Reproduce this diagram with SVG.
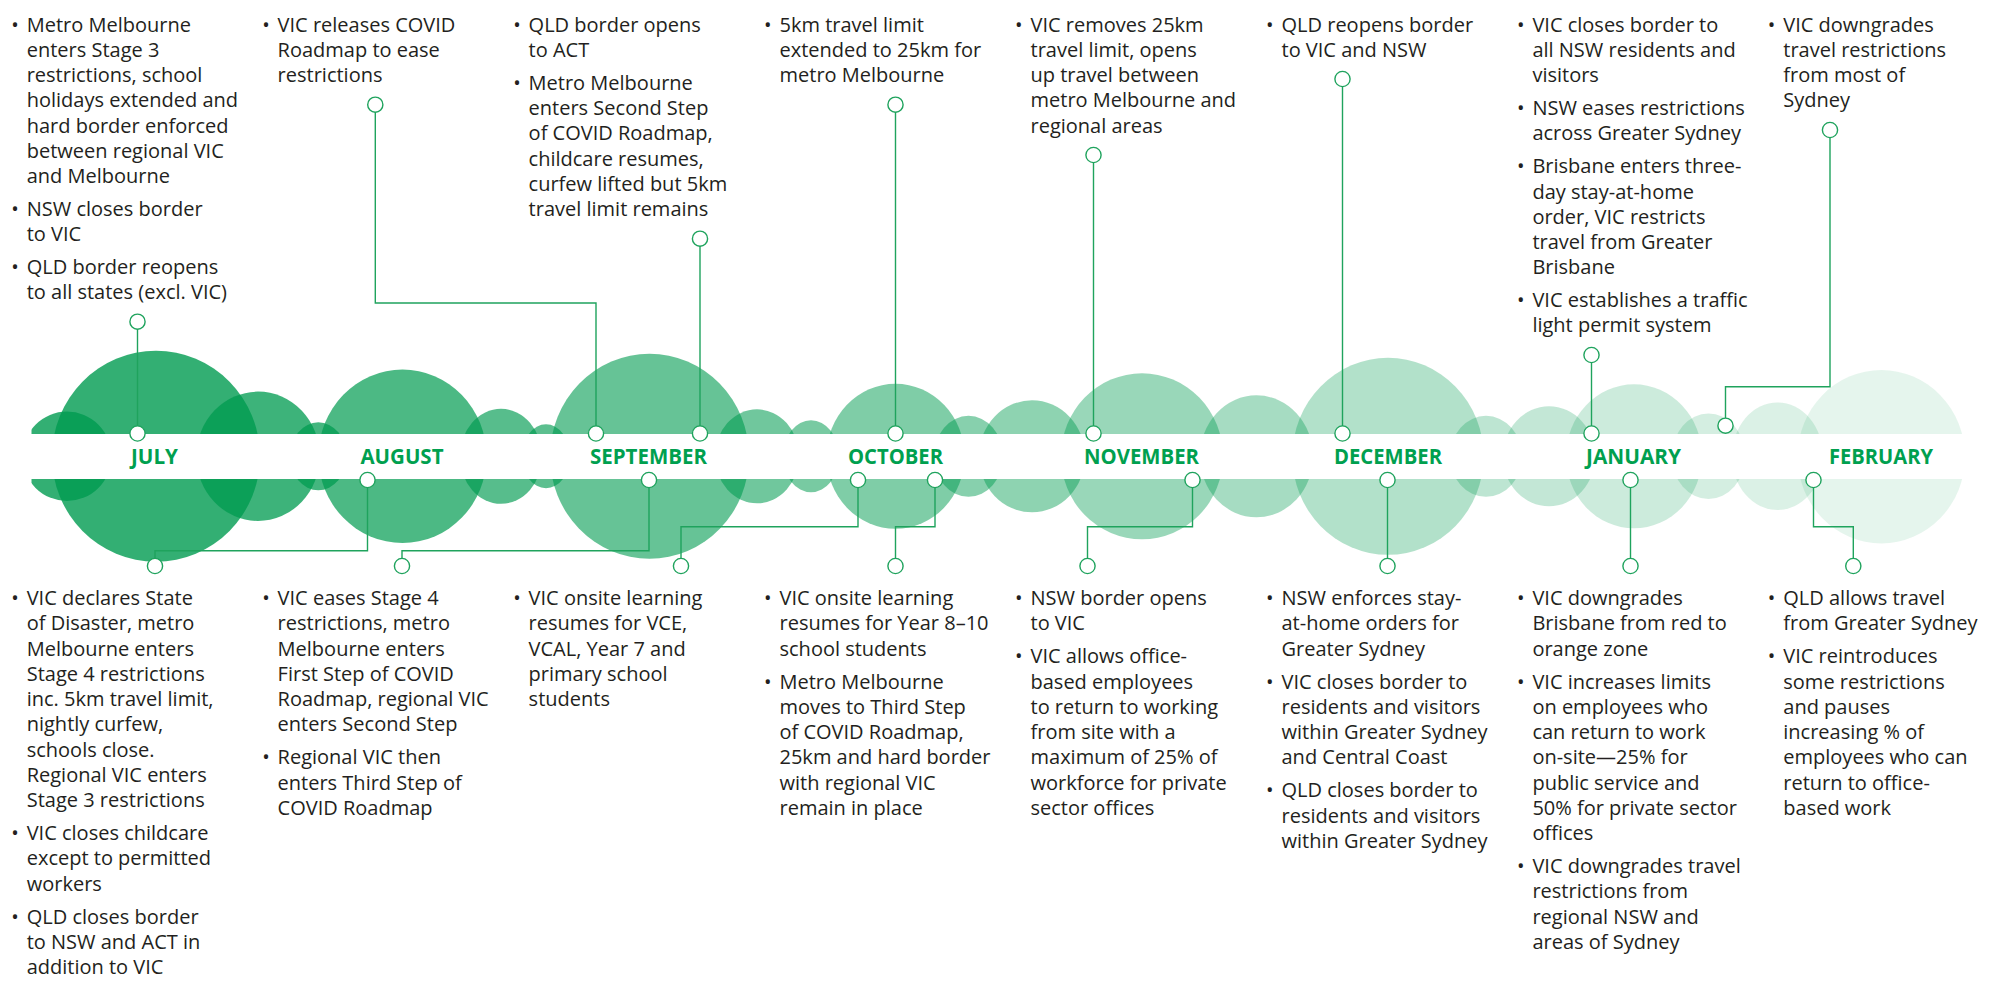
<svg xmlns="http://www.w3.org/2000/svg" width="1989" height="986" viewBox="0 0 1989 986">
<defs>
<style>
.t{font-family:"Open Sans","Liberation Sans",sans-serif;font-size:20px;fill:#231f20}
.b{font-family:"Open Sans","Liberation Sans",sans-serif;font-size:20px;fill:#231f20;text-anchor:middle}
.m{font-family:"Open Sans","Liberation Sans",sans-serif;font-size:21px;font-weight:700;fill:#00a04f;text-anchor:middle}
.bub{fill:#009b50}
.ln{fill:none;stroke:#1fa35d;stroke-width:1.4}
.mk{fill:#fff;stroke:#1fa35d;stroke-width:1.4}
</style>
<clipPath id="clipL"><rect x="31.5" y="0" width="1958" height="986"/></clipPath>
</defs>
<rect width="1989" height="986" fill="#fff"/>
<g id="bubbles" clip-path="url(#clipL)">
<ellipse class="bub" cx="67" cy="456.3" rx="44.5" ry="44.7" fill-opacity="0.8"/>
<ellipse class="bub" cx="156" cy="456.3" rx="104" ry="105.5" fill-opacity="0.8"/>
<ellipse class="bub" cx="258" cy="456.3" rx="61.7" ry="64.7" fill-opacity="0.76"/>
<ellipse class="bub" cx="318.3" cy="456.3" rx="28.3" ry="34" fill-opacity="0.735"/>
<ellipse class="bub" cx="402.5" cy="456.3" rx="84" ry="86.7" fill-opacity="0.7"/>
<ellipse class="bub" cx="501" cy="456.3" rx="41" ry="47.5" fill-opacity="0.66"/>
<ellipse class="bub" cx="546" cy="456.3" rx="24" ry="32" fill-opacity="0.64"/>
<ellipse class="bub" cx="649.5" cy="456.3" rx="99.5" ry="102.5" fill-opacity="0.6"/>
<ellipse class="bub" cx="757" cy="456.3" rx="42" ry="47" fill-opacity="0.56"/>
<ellipse class="bub" cx="811" cy="456.3" rx="28" ry="36" fill-opacity="0.53"/>
<ellipse class="bub" cx="895.5" cy="456.3" rx="69" ry="72.5" fill-opacity="0.5"/>
<ellipse class="bub" cx="968.5" cy="456.3" rx="34.5" ry="40.5" fill-opacity="0.47"/>
<ellipse class="bub" cx="1032" cy="456.3" rx="53" ry="56" fill-opacity="0.445"/>
<ellipse class="bub" cx="1142" cy="456.3" rx="81" ry="83" fill-opacity="0.4"/>
<ellipse class="bub" cx="1256.5" cy="456.3" rx="56.5" ry="61" fill-opacity="0.35"/>
<ellipse class="bub" cx="1388" cy="456.3" rx="95.6" ry="98.5" fill-opacity="0.3"/>
<ellipse class="bub" cx="1486" cy="456.3" rx="36" ry="40.5" fill-opacity="0.26"/>
<ellipse class="bub" cx="1549" cy="456.3" rx="46" ry="50" fill-opacity="0.235"/>
<ellipse class="bub" cx="1634" cy="456.3" rx="68" ry="72" fill-opacity="0.2"/>
<ellipse class="bub" cx="1708.5" cy="456.3" rx="36.6" ry="42.7" fill-opacity="0.17"/>
<ellipse class="bub" cx="1777.5" cy="456.3" rx="45.5" ry="53.8" fill-opacity="0.14"/>
<ellipse class="bub" cx="1881.3" cy="456.7" rx="83.7" ry="86.7" fill-opacity="0.1"/>
</g>
<rect id="band" x="0" y="434" width="1989" height="45" fill="#fff"/>
<g id="months">
<text class="m" x="154.5" y="464.3" textLength="47" lengthAdjust="spacingAndGlyphs">JULY</text>
<text class="m" x="402" y="464.3" textLength="83" lengthAdjust="spacingAndGlyphs">AUGUST</text>
<text class="m" x="648.5" y="464.3" textLength="117" lengthAdjust="spacingAndGlyphs">SEPTEMBER</text>
<text class="m" x="895.5" y="464.3" textLength="95" lengthAdjust="spacingAndGlyphs">OCTOBER</text>
<text class="m" x="1141.5" y="464.3" textLength="115" lengthAdjust="spacingAndGlyphs">NOVEMBER</text>
<text class="m" x="1388" y="464.3" textLength="108" lengthAdjust="spacingAndGlyphs">DECEMBER</text>
<text class="m" x="1633.5" y="464.3" textLength="95" lengthAdjust="spacingAndGlyphs">JANUARY</text>
<text class="m" x="1881" y="464.3" textLength="104" lengthAdjust="spacingAndGlyphs">FEBRUARY</text>
</g>
<g id="connectors">
<path class="ln" d="M137.5,321.7V433.5"/>
<path class="ln" d="M375.3,104.7V303H596V433.5"/>
<path class="ln" d="M700,238.7V433.5"/>
<path class="ln" d="M895.5,104.7V433.5"/>
<path class="ln" d="M1093.5,155V433.5"/>
<path class="ln" d="M1342.5,79V433.5"/>
<path class="ln" d="M1591.5,355V433.5"/>
<path class="ln" d="M1830,130V386.7H1725.5V425.7"/>
<path class="ln" d="M155,566V550.7H367.5V480"/>
<path class="ln" d="M402,566V550.7H649V480"/>
<path class="ln" d="M681,566V526.7H858V480"/>
<path class="ln" d="M895.5,566V526.7H935V480"/>
<path class="ln" d="M1087.5,566V526.7H1192.5V480"/>
<path class="ln" d="M1387.5,566V480"/>
<path class="ln" d="M1630.5,566V480"/>
<path class="ln" d="M1853.3,566V526.7H1813.5V480"/>
<circle class="mk" cx="137.5" cy="321.7" r="7.6"/>
<circle class="mk" cx="137.5" cy="433.5" r="7.6"/>
<circle class="mk" cx="375.3" cy="104.7" r="7.6"/>
<circle class="mk" cx="596" cy="433.5" r="7.6"/>
<circle class="mk" cx="700" cy="238.7" r="7.6"/>
<circle class="mk" cx="700" cy="433.5" r="7.6"/>
<circle class="mk" cx="895.5" cy="104.7" r="7.6"/>
<circle class="mk" cx="895.5" cy="433.5" r="7.6"/>
<circle class="mk" cx="1093.5" cy="155" r="7.6"/>
<circle class="mk" cx="1093.5" cy="433.5" r="7.6"/>
<circle class="mk" cx="1342.5" cy="79" r="7.6"/>
<circle class="mk" cx="1342.5" cy="433.5" r="7.6"/>
<circle class="mk" cx="1591.5" cy="355" r="7.6"/>
<circle class="mk" cx="1591.5" cy="433.5" r="7.6"/>
<circle class="mk" cx="1830" cy="130" r="7.6"/>
<circle class="mk" cx="1725.5" cy="425.7" r="7.6"/>
<circle class="mk" cx="155" cy="566" r="7.6"/>
<circle class="mk" cx="367.5" cy="480" r="7.6"/>
<circle class="mk" cx="402" cy="566" r="7.6"/>
<circle class="mk" cx="649" cy="480" r="7.6"/>
<circle class="mk" cx="681" cy="566" r="7.6"/>
<circle class="mk" cx="858" cy="480" r="7.6"/>
<circle class="mk" cx="895.5" cy="566" r="7.6"/>
<circle class="mk" cx="935" cy="480" r="7.6"/>
<circle class="mk" cx="1087.5" cy="566" r="7.6"/>
<circle class="mk" cx="1192.5" cy="480" r="7.6"/>
<circle class="mk" cx="1387.5" cy="566" r="7.6"/>
<circle class="mk" cx="1387.5" cy="480" r="7.6"/>
<circle class="mk" cx="1630.5" cy="566" r="7.6"/>
<circle class="mk" cx="1630.5" cy="480" r="7.6"/>
<circle class="mk" cx="1853.3" cy="566" r="7.6"/>
<circle class="mk" cx="1813.5" cy="480" r="7.6"/>
</g>
<g id="jul-top">
<text class="b"><tspan x="15" y="31.7">•</tspan><tspan x="15" y="215.9">•</tspan><tspan x="15" y="274.1">•</tspan></text>
<text class="t"><tspan x="26.7" y="31.7">Metro Melbourne</tspan><tspan x="26.7" y="56.9">enters Stage 3</tspan><tspan x="26.7" y="82.1">restrictions, school</tspan><tspan x="26.7" y="107.3">holidays extended and</tspan><tspan x="26.7" y="132.5">hard border enforced</tspan><tspan x="26.7" y="157.7">between regional VIC</tspan><tspan x="26.7" y="182.9">and Melbourne</tspan><tspan x="26.7" y="215.9">NSW closes border</tspan><tspan x="26.7" y="241.1">to VIC</tspan><tspan x="26.7" y="274.1">QLD border reopens</tspan><tspan x="26.7" y="299.3">to all states (excl. VIC)</tspan></text>
</g>
<g id="aug-top">
<text class="b"><tspan x="265.9" y="31.7">•</tspan></text>
<text class="t"><tspan x="277.6" y="31.7">VIC releases COVID</tspan><tspan x="277.6" y="56.9">Roadmap to ease</tspan><tspan x="277.6" y="82.1">restrictions</tspan></text>
</g>
<g id="sep-top">
<text class="b"><tspan x="516.9" y="31.7">•</tspan><tspan x="516.9" y="89.9">•</tspan></text>
<text class="t"><tspan x="528.6" y="31.7">QLD border opens</tspan><tspan x="528.6" y="56.9">to ACT</tspan><tspan x="528.6" y="89.9">Metro Melbourne</tspan><tspan x="528.6" y="115.1">enters Second Step</tspan><tspan x="528.6" y="140.3">of COVID Roadmap,</tspan><tspan x="528.6" y="165.5">childcare resumes,</tspan><tspan x="528.6" y="190.7">curfew lifted but 5km</tspan><tspan x="528.6" y="215.9">travel limit remains</tspan></text>
</g>
<g id="oct-top">
<text class="b"><tspan x="767.8" y="31.7">•</tspan></text>
<text class="t"><tspan x="779.5" y="31.7">5km travel limit</tspan><tspan x="779.5" y="56.9">extended to 25km for</tspan><tspan x="779.5" y="82.1">metro Melbourne</tspan></text>
</g>
<g id="nov-top">
<text class="b"><tspan x="1018.8" y="31.7">•</tspan></text>
<text class="t"><tspan x="1030.5" y="31.7">VIC removes 25km</tspan><tspan x="1030.5" y="56.9">travel limit, opens</tspan><tspan x="1030.5" y="82.1">up travel between</tspan><tspan x="1030.5" y="107.3">metro Melbourne and</tspan><tspan x="1030.5" y="132.5">regional areas</tspan></text>
</g>
<g id="dec-top">
<text class="b"><tspan x="1269.8" y="31.7">•</tspan></text>
<text class="t"><tspan x="1281.5" y="31.7">QLD reopens border</tspan><tspan x="1281.5" y="56.9">to VIC and NSW</tspan></text>
</g>
<g id="jan-top">
<text class="b"><tspan x="1520.7" y="31.7">•</tspan><tspan x="1520.7" y="115.1">•</tspan><tspan x="1520.7" y="173.3">•</tspan><tspan x="1520.7" y="307.1">•</tspan></text>
<text class="t"><tspan x="1532.4" y="31.7">VIC closes border to</tspan><tspan x="1532.4" y="56.9">all NSW residents and</tspan><tspan x="1532.4" y="82.1">visitors</tspan><tspan x="1532.4" y="115.1">NSW eases restrictions</tspan><tspan x="1532.4" y="140.3">across Greater Sydney</tspan><tspan x="1532.4" y="173.3">Brisbane enters three-</tspan><tspan x="1532.4" y="198.5">day stay-at-home</tspan><tspan x="1532.4" y="223.7">order, VIC restricts</tspan><tspan x="1532.4" y="248.9">travel from Greater</tspan><tspan x="1532.4" y="274.1">Brisbane</tspan><tspan x="1532.4" y="307.1">VIC establishes a traffic</tspan><tspan x="1532.4" y="332.3">light permit system</tspan></text>
</g>
<g id="feb-top">
<text class="b"><tspan x="1771.6" y="31.7">•</tspan></text>
<text class="t"><tspan x="1783.3" y="31.7">VIC downgrades</tspan><tspan x="1783.3" y="56.9">travel restrictions</tspan><tspan x="1783.3" y="82.1">from most of</tspan><tspan x="1783.3" y="107.3">Sydney</tspan></text>
</g>
<g id="jul-bottom">
<text class="b"><tspan x="15" y="605">•</tspan><tspan x="15" y="840">•</tspan><tspan x="15" y="923.5">•</tspan></text>
<text class="t"><tspan x="26.7" y="605">VIC declares State</tspan><tspan x="26.7" y="630.25">of Disaster, metro</tspan><tspan x="26.7" y="655.5">Melbourne enters</tspan><tspan x="26.7" y="680.75">Stage 4 restrictions</tspan><tspan x="26.7" y="706">inc. 5km travel limit,</tspan><tspan x="26.7" y="731.25">nightly curfew,</tspan><tspan x="26.7" y="756.5">schools close.</tspan><tspan x="26.7" y="781.75">Regional VIC enters</tspan><tspan x="26.7" y="807">Stage 3 restrictions</tspan><tspan x="26.7" y="840">VIC closes childcare</tspan><tspan x="26.7" y="865.25">except to permitted</tspan><tspan x="26.7" y="890.5">workers</tspan><tspan x="26.7" y="923.5">QLD closes border</tspan><tspan x="26.7" y="948.75">to NSW and ACT in</tspan><tspan x="26.7" y="974">addition to VIC</tspan></text>
</g>
<g id="aug-bottom">
<text class="b"><tspan x="265.9" y="605">•</tspan><tspan x="265.9" y="764.25">•</tspan></text>
<text class="t"><tspan x="277.6" y="605">VIC eases Stage 4</tspan><tspan x="277.6" y="630.25">restrictions, metro</tspan><tspan x="277.6" y="655.5">Melbourne enters</tspan><tspan x="277.6" y="680.75">First Step of COVID</tspan><tspan x="277.6" y="706">Roadmap, regional VIC</tspan><tspan x="277.6" y="731.25">enters Second Step</tspan><tspan x="277.6" y="764.25">Regional VIC then</tspan><tspan x="277.6" y="789.5">enters Third Step of</tspan><tspan x="277.6" y="814.75">COVID Roadmap</tspan></text>
</g>
<g id="sep-bottom">
<text class="b"><tspan x="516.9" y="605">•</tspan></text>
<text class="t"><tspan x="528.6" y="605">VIC onsite learning</tspan><tspan x="528.6" y="630.25">resumes for VCE,</tspan><tspan x="528.6" y="655.5">VCAL, Year 7 and</tspan><tspan x="528.6" y="680.75">primary school</tspan><tspan x="528.6" y="706">students</tspan></text>
</g>
<g id="oct-bottom">
<text class="b"><tspan x="767.8" y="605">•</tspan><tspan x="767.8" y="688.5">•</tspan></text>
<text class="t"><tspan x="779.5" y="605">VIC onsite learning</tspan><tspan x="779.5" y="630.25">resumes for Year 8–10</tspan><tspan x="779.5" y="655.5">school students</tspan><tspan x="779.5" y="688.5">Metro Melbourne</tspan><tspan x="779.5" y="713.75">moves to Third Step</tspan><tspan x="779.5" y="739">of COVID Roadmap,</tspan><tspan x="779.5" y="764.25">25km and hard border</tspan><tspan x="779.5" y="789.5">with regional VIC</tspan><tspan x="779.5" y="814.75">remain in place</tspan></text>
</g>
<g id="nov-bottom">
<text class="b"><tspan x="1018.8" y="605">•</tspan><tspan x="1018.8" y="663.25">•</tspan></text>
<text class="t"><tspan x="1030.5" y="605">NSW border opens</tspan><tspan x="1030.5" y="630.25">to VIC</tspan><tspan x="1030.5" y="663.25">VIC allows office-</tspan><tspan x="1030.5" y="688.5">based employees</tspan><tspan x="1030.5" y="713.75">to return to working</tspan><tspan x="1030.5" y="739">from site with a</tspan><tspan x="1030.5" y="764.25">maximum of 25% of</tspan><tspan x="1030.5" y="789.5">workforce for private</tspan><tspan x="1030.5" y="814.75">sector offices</tspan></text>
</g>
<g id="dec-bottom">
<text class="b"><tspan x="1269.8" y="605">•</tspan><tspan x="1269.8" y="688.5">•</tspan><tspan x="1269.8" y="797.25">•</tspan></text>
<text class="t"><tspan x="1281.5" y="605">NSW enforces stay-</tspan><tspan x="1281.5" y="630.25">at-home orders for</tspan><tspan x="1281.5" y="655.5">Greater Sydney</tspan><tspan x="1281.5" y="688.5">VIC closes border to</tspan><tspan x="1281.5" y="713.75">residents and visitors</tspan><tspan x="1281.5" y="739">within Greater Sydney</tspan><tspan x="1281.5" y="764.25">and Central Coast</tspan><tspan x="1281.5" y="797.25">QLD closes border to</tspan><tspan x="1281.5" y="822.5">residents and visitors</tspan><tspan x="1281.5" y="847.75">within Greater Sydney</tspan></text>
</g>
<g id="jan-bottom">
<text class="b"><tspan x="1520.7" y="605">•</tspan><tspan x="1520.7" y="688.5">•</tspan><tspan x="1520.7" y="873">•</tspan></text>
<text class="t"><tspan x="1532.4" y="605">VIC downgrades</tspan><tspan x="1532.4" y="630.25">Brisbane from red to</tspan><tspan x="1532.4" y="655.5">orange zone</tspan><tspan x="1532.4" y="688.5">VIC increases limits</tspan><tspan x="1532.4" y="713.75">on employees who</tspan><tspan x="1532.4" y="739">can return to work</tspan><tspan x="1532.4" y="764.25">on-site—25% for</tspan><tspan x="1532.4" y="789.5">public service and</tspan><tspan x="1532.4" y="814.75">50% for private sector</tspan><tspan x="1532.4" y="840">offices</tspan><tspan x="1532.4" y="873">VIC downgrades travel</tspan><tspan x="1532.4" y="898.25">restrictions from</tspan><tspan x="1532.4" y="923.5">regional NSW and</tspan><tspan x="1532.4" y="948.75">areas of Sydney</tspan></text>
</g>
<g id="feb-bottom">
<text class="b"><tspan x="1771.6" y="605">•</tspan><tspan x="1771.6" y="663.25">•</tspan></text>
<text class="t"><tspan x="1783.3" y="605">QLD allows travel</tspan><tspan x="1783.3" y="630.25">from Greater Sydney</tspan><tspan x="1783.3" y="663.25">VIC reintroduces</tspan><tspan x="1783.3" y="688.5">some restrictions</tspan><tspan x="1783.3" y="713.75">and pauses</tspan><tspan x="1783.3" y="739">increasing % of</tspan><tspan x="1783.3" y="764.25">employees who can</tspan><tspan x="1783.3" y="789.5">return to office-</tspan><tspan x="1783.3" y="814.75">based work</tspan></text>
</g>
</svg>
